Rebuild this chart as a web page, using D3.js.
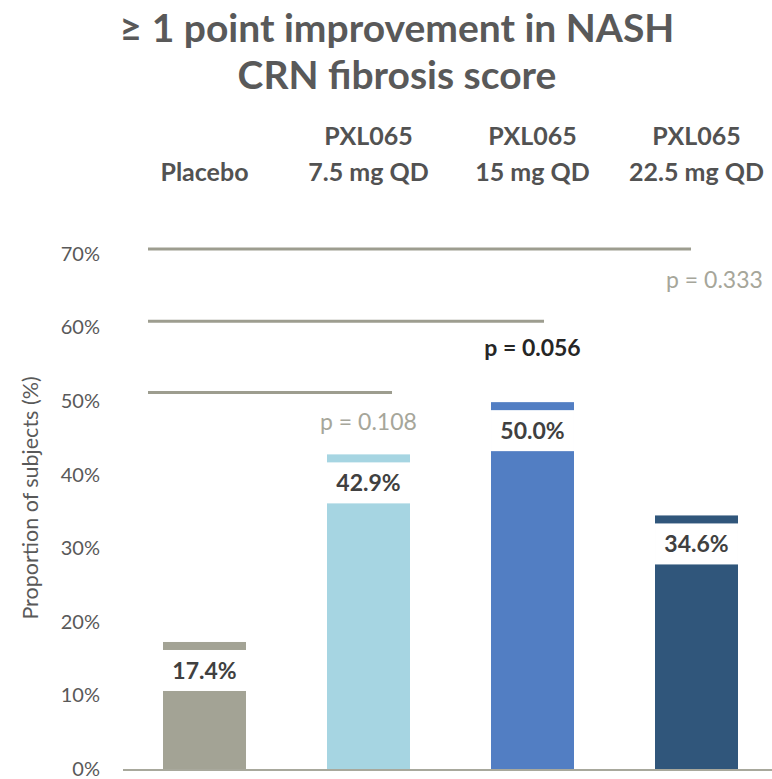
<!DOCTYPE html>
<html><head><meta charset="utf-8">
<script src="https://cdn.jsdelivr.net/npm/d3@7"></script>
<style>body{margin:0;background:#fff}svg{display:block}</style>
</head><body>
<svg id="c" width="772" height="779"></svg>
<script>
const categories = ["Placebo", "PXL065 7.5 mg QD", "PXL065 15 mg QD", "PXL065 22.5 mg QD"];
const labelLines = [["Placebo"], ["PXL065", "7.5 mg QD"], ["PXL065", "15 mg QD"], ["PXL065", "22.5 mg QD"]];
const values = [17.4, 42.9, 50.0, 34.6];
const colors = ["#a3a395", "#a6d5e2", "#527ec3", "#30567b"];
const yTicks = [0, 10, 20, 30, 40, 50, 60, 70];
const pLevels = [70.8, 61.0, 51.3];
const pTargets = ["PXL065 22.5 mg QD", "PXL065 15 mg QD", "PXL065 7.5 mg QD"];
const pLabels = ["p = 0.333", "p = 0.056", "p = 0.108"];
const pBold = [false, true, false];

const font = "Lato, 'Open Sans', sans-serif";
const svg = d3.select("#c");
const y = d3.scaleLinear().domain([0, 70]).range([770, 255]);
const x = d3.scaleBand().domain(categories).range([122.5, 122.5 + 4 * 164]).paddingInner(0.494).paddingOuter(0.247);

// title
svg.append("text").attr("x", 397).attr("y", 42).attr("text-anchor", "middle")
  .attr("font-family", font).attr("font-weight", "bold").attr("font-size", 39).attr("fill", "#595959")
  .text("≥ 1 point improvement in NASH");
svg.append("text").attr("x", 397).attr("y", 89).attr("text-anchor", "middle")
  .attr("font-family", font).attr("font-weight", "bold").attr("font-size", 39).attr("fill", "#595959")
  .text("CRN fibrosis score");

// category headers
categories.forEach((c, i) => {
  const lines = labelLines[i];
  const t = svg.append("text").attr("text-anchor", "middle")
    .attr("font-family", font).attr("font-weight", "bold").attr("font-size", 25).attr("fill", "#525252");
  lines.forEach((l, j) => {
    t.append("tspan").attr("x", x(c) + x.bandwidth() / 2)
      .attr("y", 181 - (lines.length - 1 - j) * 36).text(l);
  });
});

// y axis
const yAxis = d3.axisLeft(y).tickValues(yTicks).tickFormat(d => d + "%").tickSize(0).tickPadding(0);
const ga = svg.append("g").attr("transform", "translate(100,0)").call(yAxis);
ga.select(".domain").remove();
ga.selectAll("text").attr("font-family", font).attr("font-size", 20).attr("fill", "#595959").attr("dy", "0.27em");

svg.append("text").attr("transform", "translate(38,498) rotate(-90)").attr("text-anchor", "middle")
  .attr("font-family", font).attr("font-size", 21.5).attr("fill", "#595959")
  .text("Proportion of subjects (%)");

// bars
svg.selectAll("rect.bar").data(values).enter().append("rect").attr("class", "bar")
  .attr("x", (d, i) => x(categories[i])).attr("width", x.bandwidth())
  .attr("y", d => y(d)).attr("height", d => y(0) - y(d)).attr("fill", (d, i) => colors[i]);

// data labels
svg.selectAll("rect.lab").data(values).enter().append("rect").attr("class", "lab")
  .attr("x", (d, i) => x(categories[i])).attr("width", x.bandwidth())
  .attr("y", d => y(d) + 8).attr("height", 41).attr("fill", "#fff");
svg.selectAll("text.lab").data(values).enter().append("text").attr("class", "lab")
  .attr("x", (d, i) => x(categories[i]) + x.bandwidth() / 2).attr("y", d => y(d) + 37)
  .attr("text-anchor", "middle").attr("font-family", font).attr("font-weight", "bold")
  .attr("font-size", 23).attr("fill", "#404040").text(d => d.toFixed(1) + "%");

// baseline
svg.append("line").attr("x1", 123).attr("x2", 772).attr("y1", y(0)).attr("y2", y(0))
  .attr("stroke", "#a8a89c").attr("stroke-width", 2);

// significance lines
const endOffsets = [36, 53, 65];
pLevels.forEach((lv, i) => {
  svg.append("line").attr("x1", x("Placebo") - 15).attr("x2", x(pTargets[i]) + endOffsets[i])
    .attr("y1", y(lv)).attr("y2", y(lv)).attr("stroke", "#9d9d8f").attr("stroke-width", 3);
});
const pDx = [18, 0, 0];
const pY = [288, 356, 430];
pLabels.forEach((p, i) => {
  svg.append("text").attr("x", x(pTargets[i]) + x.bandwidth() / 2 + pDx[i]).attr("y", pY[i])
    .attr("text-anchor", "middle").attr("font-family", font).attr("font-size", 23)
    .attr("font-weight", pBold[i] ? "bold" : "normal").attr("fill", pBold[i] ? "#262626" : "#a6a69a").text(p);
});
</script>
</body></html>
